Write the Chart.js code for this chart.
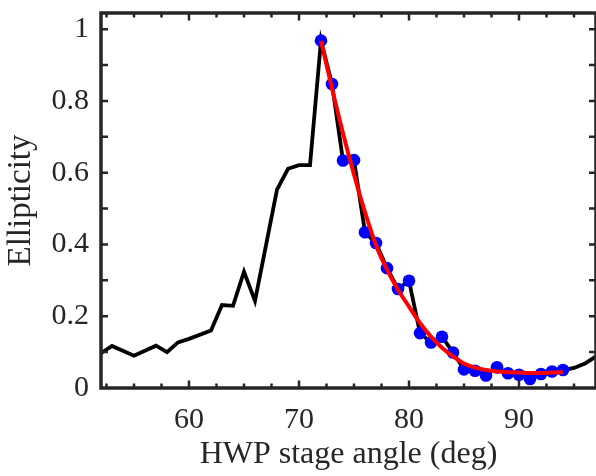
<!DOCTYPE html>
<html><head><meta charset="utf-8">
<script src="https://cdn.jsdelivr.net/npm/chart.js@4.4.1/dist/chart.umd.min.js"></script>
<style>html,body{margin:0;padding:0;background:#fff;overflow:hidden}canvas{display:block}</style>
</head><body>
<canvas id="c" width="596" height="476"></canvas>
<script>
// Full scan (black line)
const scanAngles = [52, 53, 55, 57, 58, 59, 60, 62, 63, 64, 65, 66, 68, 69, 70, 71, 72, 73, 74, 75, 76, 77, 78, 79, 80, 81, 82, 83, 84, 85, 86, 87, 88, 89, 90, 91, 92, 93, 94, 95, 96, 97];
const scanEllipticity = [0.097, 0.117, 0.090, 0.118, 0.100, 0.127, 0.137, 0.160, 0.231, 0.229, 0.324, 0.243, 0.553, 0.611, 0.621, 0.621, 0.968, 0.847, 0.634, 0.635, 0.434, 0.404, 0.334, 0.276, 0.299, 0.153, 0.127, 0.143, 0.099, 0.052, 0.048, 0.035, 0.058, 0.041, 0.037, 0.025, 0.039, 0.046, 0.050, 0.056, 0.068, 0.088];
// Points used for the fit (blue)
const measuredAngles = [72, 73, 74, 75, 76, 77, 78, 79, 80, 81, 82, 83, 84, 85, 86, 87, 88, 89, 90, 91, 92, 93, 94];
const measuredEllipticity = [0.968, 0.847, 0.634, 0.635, 0.434, 0.404, 0.334, 0.276, 0.299, 0.153, 0.127, 0.143, 0.099, 0.052, 0.048, 0.035, 0.058, 0.041, 0.037, 0.025, 0.039, 0.046, 0.050];
// Fit curve (red)
const fitAngles = [72, 73, 74, 75, 76, 77, 78, 79, 80, 81, 82, 83, 84, 85, 86, 87, 88, 89, 90, 91, 92, 93, 94];
const fitEllipticity = [0.967, 0.835, 0.710, 0.595, 0.490, 0.398, 0.330, 0.274, 0.227, 0.181, 0.143, 0.112, 0.088, 0.068, 0.057, 0.050, 0.046, 0.044, 0.043, 0.042, 0.042, 0.043, 0.044];
// Tick labels
const xTickLabels = [60, 70, 80, 90];
const yTickLabels = [0, 0.2, 0.4, 0.6, 0.8, 1];

const toXY = (xs, ys) => xs.map((x, i) => ({x: x, y: ys[i]}));
const AX = '#262626';
const SERIF = '"Liberation Serif", "Times New Roman", serif';

const framePlugin = {
  id: 'frame',
  afterDraw(chart) {
    const {ctx, chartArea: a, scales: {x, y}} = chart;
    ctx.save();
    ctx.strokeStyle = AX;
    ctx.lineCap = 'butt';
    ctx.lineWidth = 2.5;
    for (let v = 52.5; v <= 97; v += 2.5) {
      const px = x.getPixelForValue(v);
      const len = (v % 10 === 0) ? 7.5 : 4.5;
      ctx.beginPath();
      ctx.moveTo(px, a.bottom); ctx.lineTo(px, a.bottom - len);
      ctx.moveTo(px, a.top); ctx.lineTo(px, a.top + len);
      ctx.stroke();
    }
    for (let k = 1; k <= 10; k++) {
      const py = y.getPixelForValue(k / 10);
      ctx.beginPath();
      ctx.moveTo(a.left, py); ctx.lineTo(a.left + 7, py);
      ctx.moveTo(a.right, py); ctx.lineTo(a.right - 7, py);
      ctx.stroke();
    }
    ctx.lineWidth = 3.5;
    ctx.strokeRect(a.left, a.top, a.right - a.left, a.bottom - a.top);
    ctx.restore();
  }
};

new Chart(document.getElementById('c'), {
  type: 'line',
  data: {
    datasets: [
      {
        label: 'Fit',
        data: toXY(fitAngles, fitEllipticity),
        borderColor: '#ff0000',
        borderWidth: 4,
        pointRadius: 0,
        cubicInterpolationMode: 'monotone',
        fill: false,
        order: 1
      },
      {
        label: 'Fit points',
        data: toXY(measuredAngles, measuredEllipticity),
        showLine: false,
        pointRadius: 6.3,
        pointBorderWidth: 0,
        pointBackgroundColor: '#0000ff',
        pointBorderColor: '#0000ff',
        order: 2
      },
      {
        label: 'Scan',
        data: toXY(scanAngles, scanEllipticity),
        borderColor: '#000000',
        borderWidth: 3.8,
        pointRadius: 0,
        tension: 0,
        fill: false,
        order: 3
      }
    ]
  },
  options: {
    responsive: false,
    animation: false,
    devicePixelRatio: 1,
    layout: {autoPadding: false, padding: {top: 13, right: -1, left: 0, bottom: 0}},
    plugins: {legend: {display: false}, tooltip: {enabled: false}, title: {display: false}},
    scales: {
      x: {
        type: 'linear',
        min: 52, max: 97,
        grid: {display: false, drawTicks: false},
        border: {display: false},
        afterBuildTicks: s => { s.ticks = xTickLabels.map(v => ({value: v})); },
        afterFit: s => { s.height = 88; s.paddingLeft = 0; s.paddingRight = 0; s.paddingTop = 0; s.paddingBottom = 0; },
        ticks: {
          padding: 14,
          maxRotation: 0, autoSkip: false,
          color: AX,
          font: {family: SERIF, size: 30},
          callback: v => String(v)
        },
        title: {
          display: true,
          text: 'HWP stage angle (deg)',
          color: AX,
          padding: {top: 0, bottom: 2},
          font: {family: SERIF, size: 32, weight: 'normal'}
        }
      },
      y: {
        type: 'linear',
        min: 0, max: 1.045,
        grid: {display: false, drawTicks: false},
        border: {display: false},
        afterBuildTicks: s => { s.ticks = yTickLabels.map(v => ({value: v})); },
        afterFit: s => { s.width = 101; s.paddingLeft = 0; s.paddingRight = 0; s.paddingTop = 0; s.paddingBottom = 0; },
        ticks: {
          padding: 12,
          autoSkip: false,
          color: AX,
          font: {family: SERIF, size: 30},
          callback: v => String(Math.round(v * 10) / 10)
        },
        title: {
          display: true,
          text: 'Ellipticity',
          color: AX,
          padding: {top: 2, bottom: 0},
          font: {family: SERIF, size: 33, weight: 'normal'}
        }
      }
    }
  },
  plugins: [framePlugin]
});
</script>
</body></html>
